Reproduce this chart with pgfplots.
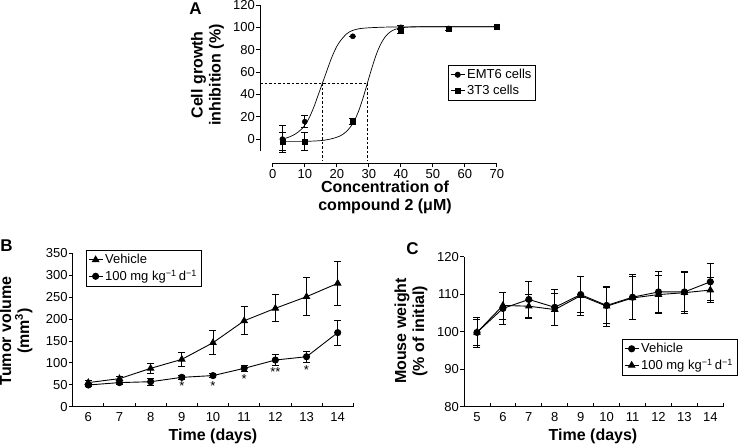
\documentclass[border=0pt]{standalone}
\usepackage{fontspec}
\setmainfont{Liberation Sans}
\usepackage{pgfplots}
\pgfplotsset{compat=1.18}
\pgfplotsset{
 common/.style={
  scale only axis,
  enlargelimits=false,
  font=\fontsize{13}{14}\selectfont,
  /pgf/number format/assume math mode=true,
  tick label style={font=\fontsize{13}{14}\selectfont},
  axis x line=bottom, axis y line=left,
  axis line style={-, line width=0.8pt},
  every outer x axis line/.append style={-},
  every outer y axis line/.append style={-},
  tick style={black, line width=0.8pt},
  major tick length=4pt,
  minor tick length=4pt,
  yticklabel style={inner sep=1pt},
  clip=false,
  legend cell align=left,
  legend style={draw=black, line width=0.6pt, font=\fontsize{13}{14}\selectfont, inner xsep=2pt, inner ysep=2pt, row sep=1pt},
  legend image code/.code={\draw[mark repeat=2,mark phase=2] plot coordinates {(0pt,0pt)(7pt,0pt)(14pt,0pt)};},
 },
 eb/.style={error bars/.cd, y dir=both, y explicit, error mark options={rotate=90, mark size=3.5pt, line width=0.8pt}, error bar style={line width=0.8pt}},
}
\begin{document}
\begin{tikzpicture}[x=1pt,y=1pt]
\path[use as bounding box] (0pt,0pt) rectangle (744pt,447pt);

% ---------------- Panel A ----------------
\begin{axis}[common, at={(260pt,283.7pt)}, anchor=south west, width=236.8pt, height=158.3pt,
  xmin=-4, xmax=70, ymin=-21.6, ymax=120,
  xtick={0,10,...,70}, ytick={0,20,...,120}, tick align=outside,
  xticklabel style={inner sep=1.5pt},
  axis line style={draw=none},
  legend style={at={(0.794,0.621)}, anchor=north west}]
\addlegendimage{black, line width=0.8pt, mark=*, mark size=2.6pt}
\addlegendentry{EMT6 cells}
\addlegendimage{black, line width=0.8pt, mark=square*, mark size=2.6pt}
\addlegendentry{3T3 cells}
\draw[line width=0.8pt] (axis cs:-4,-11) -- (axis cs:-4,120);
\draw[line width=0.8pt] (axis cs:0,-21.6) -- (axis cs:70,-21.6);
\addplot[black, line width=0.6pt, dash pattern=on 2.5pt off 2pt, forget plot] coordinates {(-4,50) (29.5,50)};
\addplot[black, line width=0.6pt, dash pattern=on 2.5pt off 2pt, forget plot] coordinates {(15.5,50) (15.5,-19)};
\addplot[black, line width=0.6pt, dash pattern=on 2.5pt off 2pt, forget plot] coordinates {(29.5,50) (29.5,-19)};
\addplot[black, line width=0.7pt, smooth, tension=0.5, forget plot] coordinates {
(3,0)(4,0.8)(5,1.8)(6,3)(7,4.5)(8,6.5)(9,9)(10,12.5)(11,17)(12,23)(13,30)(14,38)(15,46)(16,54)(17,62)(18,70)(19,77)(20,83)(21,87.5)(22,91)(23,94)(24,96)(25,97.3)(27,98.8)(30,99.6)(35,100.2)(40,100.4)(50,100.5)(70,100.5)};
\addplot[black, line width=0.7pt, smooth, tension=0.5, forget plot] coordinates {
(3,-2)(8,-2)(12,-1.8)(15,-1.3)(17,-0.5)(19,0.8)(21,2.8)(22,4.5)(23,6.8)(24,10)(25,14)(26,19.5)(27,26.5)(28,35)(29,44.5)(30,54.5)(31,64)(32,73)(33,80.5)(34,86.5)(35,91)(36,94.3)(37,96.5)(38,98)(40,99.5)(43,100.3)(50,100.5)(70,100.5)};
\addplot[black, only marks, mark=*, mark size=2.6pt, forget plot, eb] coordinates {
(3,0) +- (0,12) (10,15.6) +- (0,5.2) (25,92) +- (0,0) (40,100) +- (0,2) (55,99) +- (0,1.5) (70,100.5) +- (0,0)};
\addplot[black, only marks, mark=square*, mark size=2.6pt, forget plot, eb] coordinates {
(3,-2) +- (0,8) (10,-2) +- (0,8) (25,16) +- (0,3) (40,98) +- (0,3.5) (55,99) +- (0,2) (70,100.5) +- (0,0)};
\end{axis}

% ---------------- Panel B ----------------
\begin{axis}[common, at={(72.7pt,40.3pt)}, anchor=south west, width=280.6pt, height=153.4pt,
  xmin=5.5, xmax=14.5, ymin=0, ymax=350,
  ytick={0,50,...,350}, ytick align=outside, xtick align=inside,
  xtick={6.5,7.5,...,14.5}, xticklabels={},
  extra x ticks={6,7,8,9,10,11,12,13,14},
  extra x tick labels={6,7,8,9,10,11,12,13,14},
  extra x tick style={major tick length=0pt, xticklabel style={inner sep=1pt, yshift=-5pt}},
  legend style={at={(0.047,1.0215)}, anchor=north west}]
\addplot[black, line width=0.9pt, mark=triangle*, mark size=3.6pt, eb] coordinates {
(6,55) +- (0,4) (7,64) +- (0,5) (8,87.5) +- (0,12) (9,108) +- (0,17) (10,146) +- (0,27) (11,196) +- (0,32) (12,224.5) +- (0,31) (13,251) +- (0,43) (14,281.5) +- (0,51)};
\addlegendentry{Vehicle}
\addplot[black, line width=0.9pt, mark=*, mark size=3.1pt, eb] coordinates {
(6,49.5) +- (0,4) (7,55) +- (0,4) (8,57) +- (0,8) (9,67) +- (0,5) (10,71) +- (0,5) (11,87.5) +- (0,6) (12,106.5) +- (0,12) (13,114) +- (0,12) (14,169) +- (0,29)};
\addlegendentry{100 mg kg\textsuperscript{−1}\,d\textsuperscript{−1}}
\node[anchor=north, inner sep=0pt, font=\fontsize{13}{13}\selectfont] at (axis cs:9,57) {*};
\node[anchor=north, inner sep=0pt, font=\fontsize{13}{13}\selectfont] at (axis cs:10,57) {*};
\node[anchor=north, inner sep=0pt, font=\fontsize{13}{13}\selectfont] at (axis cs:11,74.5) {*};
\node[anchor=north, inner sep=0pt, font=\fontsize{13}{13}\selectfont] at (axis cs:12,90) {**};
\node[anchor=north, inner sep=0pt, font=\fontsize{13}{13}\selectfont] at (axis cs:13,93.5) {*};
\end{axis}

% ---------------- Panel C ----------------
\begin{axis}[common, at={(464pt,40.3pt)}, anchor=south west, width=259.3pt, height=150pt,
  xmin=4.5, xmax=14.5, ymin=80, ymax=120,
  ytick={80,90,...,120}, ytick align=outside, xtick align=inside,
  xtick={5.5,6.5,...,14.5}, xticklabels={},
  extra x ticks={5,6,7,8,9,10,11,12,13,14},
  extra x tick labels={5,6,7,8,9,10,11,12,13,14},
  extra x tick style={major tick length=0pt, xticklabel style={inner sep=1pt, yshift=-5pt}},
  legend style={at={(0.609,0.451)}, anchor=north west}]
\addplot[black, line width=0.9pt, mark=*, mark size=3.1pt, eb] coordinates {
(5,99.8) +- (0,3.9) (6,106.2) +- (0,4.3) (7,108.6) +- (0,4.8) (8,106.5) +- (0,4.8) (9,109.9) +- (0,4.8) (10,107) +- (0,4.8) (11,109.2) +- (0,6) (12,110.6) +- (0,5.4) (13,110.6) +- (0,5.2) (14,113.3) +- (0,5)};
\addlegendentry{Vehicle}
\addplot[black, line width=0.9pt, mark=triangle*, mark size=3.6pt, eb] coordinates {
(5,99.8) +- (0,3.5) (6,107) +- (0,3.6) (7,106.8) +- (0,3.2) (8,105.9) +- (0,4.2) (9,109.6) +- (0,5.2) (10,106.8) +- (0,5.3) (11,109) +- (0,5.8) (12,109.9) +- (0,5) (13,110.4) +- (0,5.6) (14,111.1) +- (0,3.4)};
\addlegendentry{100 mg kg\textsuperscript{−1}\,d\textsuperscript{−1}}
\end{axis}

% ---------------- Labels ----------------
\node[font=\bfseries\fontsize{17}{17}\selectfont] at (195.5pt,438pt) {A};
\node[font=\bfseries\fontsize{17}{17}\selectfont] at (6.5pt,201pt) {B};
\node[font=\bfseries\fontsize{17}{17}\selectfont] at (412.5pt,198pt) {C};
\node[rotate=90, align=center, font=\bfseries\fontsize{16}{18}\selectfont] at (207.5pt,372pt) {Cell growth\\inhibition (\%)};
\node[rotate=90, align=center, font=\bfseries\fontsize{16}{18}\selectfont] at (16pt,116pt) {Tumor volume\\(mm\textsuperscript{3})};
\node[rotate=90, align=center, font=\bfseries\fontsize{16}{18}\selectfont] at (411pt,116pt) {Mouse weight\\(\% of initial)};
\node[align=center, font=\bfseries\fontsize{16}{18}\selectfont] at (385pt,250pt) {Concentration of\\compound 2 (μM)};
\node[font=\bfseries\fontsize{16}{18}\selectfont] at (213pt,11pt) {Time (days)};
\node[font=\bfseries\fontsize{16}{18}\selectfont] at (593pt,11pt) {Time (days)};
\end{tikzpicture}
\end{document}
